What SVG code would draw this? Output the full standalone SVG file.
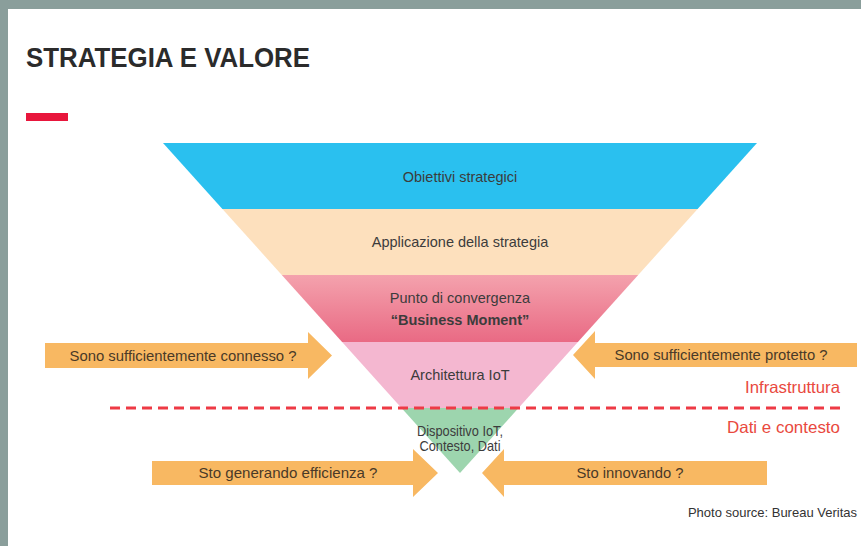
<svg xmlns="http://www.w3.org/2000/svg" width="861" height="546" viewBox="0 0 861 546">
  <defs>
    <linearGradient id="gPink" x1="0" y1="0" x2="0" y2="1">
      <stop offset="0" stop-color="#f4a2ad"/>
      <stop offset="1" stop-color="#e96a84"/>
    </linearGradient>
    <style>
      .lbl { font-family: "Liberation Sans", Arial, sans-serif; font-size: 14.5px; fill: #3c3c3c; text-anchor: middle; }
      .arrow { fill: #f8b862; }
      .arrtxt { font-family: "Liberation Sans", Arial, sans-serif; font-size: 14.5px; fill: #4a3a28; text-anchor: middle; }
      .zone { font-family: "Liberation Sans", Arial, sans-serif; font-size: 16.5px; fill: #e9493e; text-anchor: end; }
    </style>
  </defs>
  <rect x="0" y="0" width="861" height="546" fill="#ffffff"/>
  <rect x="0" y="0" width="861" height="9" fill="#8a9e9b"/>
  <rect x="0" y="0" width="8" height="546" fill="#8a9e9b"/>

  <text x="26" y="67" font-family="Liberation Sans, Arial, sans-serif" font-weight="bold" font-size="27" fill="#2b2b2b" textLength="284" lengthAdjust="spacingAndGlyphs">STRATEGIA E VALORE</text>
  <rect x="26" y="113" width="42" height="8" fill="#e8163c"/>

  <g id="funnel">
    <g id="n-obiettivi">
      <polygon points="163,143 757,143 697.6,209 222.4,209" fill="#2ac0ef"/>
      <text class="lbl" x="460" y="182">Obiettivi strategici</text>
    </g>
    <g id="n-applicazione">
      <polygon points="222.4,209 697.6,209 638.2,275 281.8,275" fill="#fde0bd"/>
      <text class="lbl" x="460" y="247">Applicazione della strategia</text>
    </g>
    <g id="n-punto">
      <polygon points="281.8,275 638.2,275 577.9,342 342.1,342" fill="url(#gPink)"/>
      <text class="lbl" x="460" y="303">Punto di convergenza</text>
      <text class="lbl" x="460" y="325" font-weight="bold">“Business Moment”</text>
    </g>
    <g id="n-architettura">
      <polygon points="342.1,342 577.9,342 518.5,408 401.5,408" fill="#f4b7d0"/>
      <text class="lbl" x="460" y="380">Architettura IoT</text>
    </g>
    <g id="n-dispositivo">
      <polygon points="401.5,408 518.5,408 460,473" fill="#9dd5ae"/>
      <text class="lbl" x="460" y="436" font-size="12.5" textLength="86" lengthAdjust="spacingAndGlyphs">Dispositivo IoT,</text>
      <text class="lbl" x="460" y="451" font-size="12.5" textLength="81" lengthAdjust="spacingAndGlyphs">Contesto, Dati</text>
    </g>
  </g>

  <g id="connectors">
    <line x1="110" y1="408" x2="845" y2="408" stroke="#ee3a45" stroke-width="3" stroke-dasharray="10 6"/>
  </g>

  <g id="a-connesso">
    <path class="arrow" d="M45,343 H308 V332 L332,355.5 L308,379 V368 H45 Z"/>
    <text class="arrtxt" x="183" y="360.5" textLength="227" lengthAdjust="spacingAndGlyphs">Sono sufficientemente connesso ?</text>
  </g>
  <g id="a-protetto">
    <path class="arrow" d="M857,343 H595 V331 L573,355 L595,379 V367 H857 Z"/>
    <text class="arrtxt" x="721" y="360" textLength="213" lengthAdjust="spacingAndGlyphs">Sono sufficientemente protetto ?</text>
  </g>
  <g id="a-efficienza">
    <path class="arrow" d="M152,461 H413 V449 L438,473 L413,497 V485 H152 Z"/>
    <text class="arrtxt" x="288" y="478" textLength="179" lengthAdjust="spacingAndGlyphs">Sto generando efficienza ?</text>
  </g>
  <g id="a-innovando">
    <path class="arrow" d="M767,461 H504 V449 L482,473 L504,497 V485 H767 Z"/>
    <text class="arrtxt" x="630" y="478" textLength="107" lengthAdjust="spacingAndGlyphs">Sto innovando ?</text>
  </g>

  <text class="zone" x="840" y="393" textLength="95" lengthAdjust="spacingAndGlyphs">Infrastruttura</text>
  <text class="zone" x="840" y="433" textLength="113" lengthAdjust="spacingAndGlyphs">Dati e contesto</text>

  <text x="857" y="517" font-family="Liberation Sans, Arial, sans-serif" font-size="13" fill="#333333" text-anchor="end">Photo source: Bureau Veritas</text>
</svg>
